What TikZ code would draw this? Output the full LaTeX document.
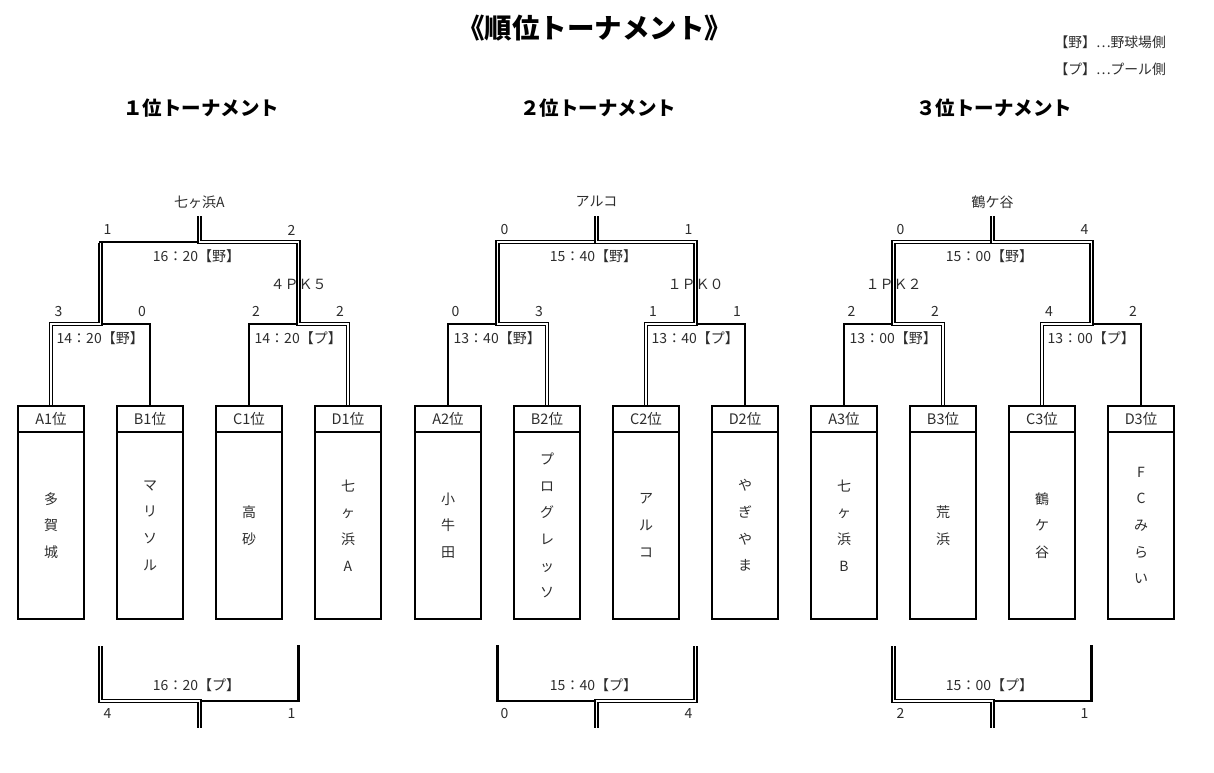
\documentclass[tikz,border=0pt]{standalone}
\usepackage{fontspec}
\setmainfont{Noto Sans CJK JP}
\definecolor{tc}{RGB}{45,45,45}
\tikzset{
  txt/.style={text=tc, font=\fontsize{14}{16}\selectfont, inner sep=0pt},
  ttl/.style={font=\fontsize{27.5}{30}\selectfont\bfseries, inner sep=0pt},
  headline/.style={font=\fontsize{19.5}{22}\selectfont\bfseries, inner sep=0pt},
  legend/.style={text=tc, font=\fontsize{13.8}{15}\selectfont, inner sep=0pt, anchor=east},
  hdr/.style={draw, line width=1.8pt, minimum width=66pt, minimum height=26pt, inner sep=0pt, text=tc, font=\fontsize{14.5}{16}\selectfont},
  bodyb/.style={draw, line width=1.8pt, minimum width=66pt, minimum height=187pt, inner sep=0pt, align=center, text=tc, font=\fontsize{14}{26.7}\selectfont},
  sgl/.style={line width=2.6pt, line cap=rect},
  dbl/.style={double=white, double distance=1.5pt, line width=1.35pt},
}
\newcommand\Brk[7]{%
\begin{scope}[xshift=#1pt]
  \node[headline] (H#2) at (183,108) {#7位トーナメント};
  \node[hdr] (A#2) at (33,419) {A#2位};
  \node[bodyb] (A#2b) at (33,525.5) {#3};
  \node[hdr] (B#2) at (132,419) {B#2位};
  \node[bodyb] (B#2b) at (132,525.5) {#4};
  \node[hdr] (C#2) at (231,419) {C#2位};
  \node[bodyb] (C#2b) at (231,525.5) {#5};
  \node[hdr] (D#2) at (330,419) {D#2位};
  \node[bodyb] (D#2b) at (330,525.5) {#6};
  \coordinate (SL#2) at (82.5,324);
  \coordinate (SR#2) at (280.5,324);
  \coordinate (FL#2) at (82.5,242);
  \coordinate (FR#2) at (280.5,242);
  \coordinate (FC#2) at (181.5,242);
  \coordinate (T#2) at (181.5,216);
  \coordinate (BL#2) at (82.5,646);
  \coordinate (BR#2) at (280.5,646);
  \coordinate (BC#2) at (181.5,701);
  \coordinate (BD#2) at (181.5,728);
\end{scope}}
\begin{document}
\begin{tikzpicture}[x=1pt,y=-1pt]
\fill[white] (0,0) rectangle (1214,772);
\useasboundingbox (0,0) rectangle (1214,772);
\node[ttl] (title) at (594.5,28) {《順位トーナメント》};
\node[legend] (lg1) at (1166,42) {【野】…野球場側};
\node[legend] (lg2) at (1166,69) {【プ】…プール側};

\Brk{18}{1}{多\\賀\\城}{マ\\リ\\ソ\\ル}{高\\砂}{七\\ヶ\\浜\\A}{１}
\Brk{415}{2}{小\\牛\\田}{プ\\ロ\\グ\\レ\\ッ\\ソ}{ア\\ル\\コ}{や\\ぎ\\や\\ま}{２}
\Brk{811}{3}{七\\ヶ\\浜\\B}{荒\\浜}{鶴\\ケ\\谷}{F\\C\\み\\ら\\い}{３}

% ---- bracket 1 labels
\begin{scope}[xshift=18pt]
  \node[txt] (W1) at (181.5,202) {七ヶ浜A};
  \node[txt] (f1l) at (89.5,230) {1};
  \node[txt] (f1r) at (273.5,230) {2};
  \node[txt] (ft1) at (178.5,256) {16：20【野】};
  \node[txt] (pk1) at (280.5,284) {４ＰＫ５};
  \node[txt] (s1a) at (40.5,311) {3};
  \node[txt] (s1b) at (124,311) {0};
  \node[txt] (s1c) at (238,311) {2};
  \node[txt] (s1d) at (322,311) {2};
  \node[txt, anchor=west] (st1l) at (38.5,338) {14：20【野】};
  \node[txt, anchor=west] (st1r) at (236.5,338) {14：20【プ】};
  \node[txt] (bt1) at (178.5,685) {16：20【プ】};
  \node[txt] (b1l) at (89.5,713) {4};
  \node[txt] (b1r) at (273.5,713) {1};
\end{scope}
% ---- bracket 2 labels
\begin{scope}[xshift=415pt]
  \node[txt] (W2) at (181.5,202) {アルコ};
  \node[txt] (f2l) at (89.5,230) {0};
  \node[txt] (f2r) at (273.5,230) {1};
  \node[txt] (ft2) at (178.5,256) {15：40【野】};
  \node[txt] (pk2) at (280.5,284) {１ＰＫ０};
  \node[txt] (s2a) at (40.5,311) {0};
  \node[txt] (s2b) at (124,311) {3};
  \node[txt] (s2c) at (238,311) {1};
  \node[txt] (s2d) at (322,311) {1};
  \node[txt, anchor=west] (st2l) at (38.5,338) {13：40【野】};
  \node[txt, anchor=west] (st2r) at (236.5,338) {13：40【プ】};
  \node[txt] (bt2) at (178.5,685) {15：40【プ】};
  \node[txt] (b2l) at (89.5,713) {0};
  \node[txt] (b2r) at (273.5,713) {4};
\end{scope}
% ---- bracket 3 labels
\begin{scope}[xshift=811pt]
  \node[txt] (W3) at (181.5,202) {鶴ケ谷};
  \node[txt] (f3l) at (89.5,230) {0};
  \node[txt] (f3r) at (273.5,230) {4};
  \node[txt] (ft3) at (178.5,256) {15：00【野】};
  \node[txt] (pk3) at (82.5,284) {１ＰＫ２};
  \node[txt] (s3a) at (40.5,311) {2};
  \node[txt] (s3b) at (124,311) {2};
  \node[txt] (s3c) at (238,311) {4};
  \node[txt] (s3d) at (322,311) {2};
  \node[txt, anchor=west] (st3l) at (38.5,338) {13：00【野】};
  \node[txt, anchor=west] (st3r) at (236.5,338) {13：00【プ】};
  \node[txt] (bt3) at (178.5,685) {15：00【プ】};
  \node[txt] (b3l) at (89.5,713) {2};
  \node[txt] (b3r) at (273.5,713) {1};
\end{scope}

% ---- bracket 1 lines
\draw[sgl] (B1.north) |- (SL1);
\draw[sgl] (C1.north) |- (SR1);
\draw[sgl] (FL1) -- (FC1);
\draw[sgl] (BR1) |- (BC1);
\draw[dbl] (A1.north) |- (SL1) -- ([yshift=-1.3pt]FL1);
\draw[dbl] (D1.north) |- (SR1) -- (FR1) -- (FC1) -- (T1);
\draw[dbl] (BL1) |- (BC1) -- (BD1);
% ---- bracket 2 lines
\draw[sgl] (A2.north) |- (SL2);
\draw[sgl] (D2.north) |- (SR2);
\draw[sgl] (BL2) |- (BC2);
\draw[dbl] (B2.north) |- (SL2) -- (FL2) -- (FC2);
\draw[dbl] (C2.north) |- (SR2) -- (FR2) -- (FC2) -- (T2);
\draw[dbl] (BR2) |- (BC2) -- (BD2);
% ---- bracket 3 lines
\draw[sgl] (A3.north) |- (SL3);
\draw[sgl] (D3.north) |- (SR3);
\draw[sgl] (BR3) |- (BC3);
\draw[dbl] (B3.north) |- (SL3) -- (FL3) -- (FC3);
\draw[dbl] (C3.north) |- (SR3) -- (FR3) -- (FC3) -- (T3);
\draw[dbl] (BL3) |- (BC3) -- (BD3);
\end{tikzpicture}
\end{document}
